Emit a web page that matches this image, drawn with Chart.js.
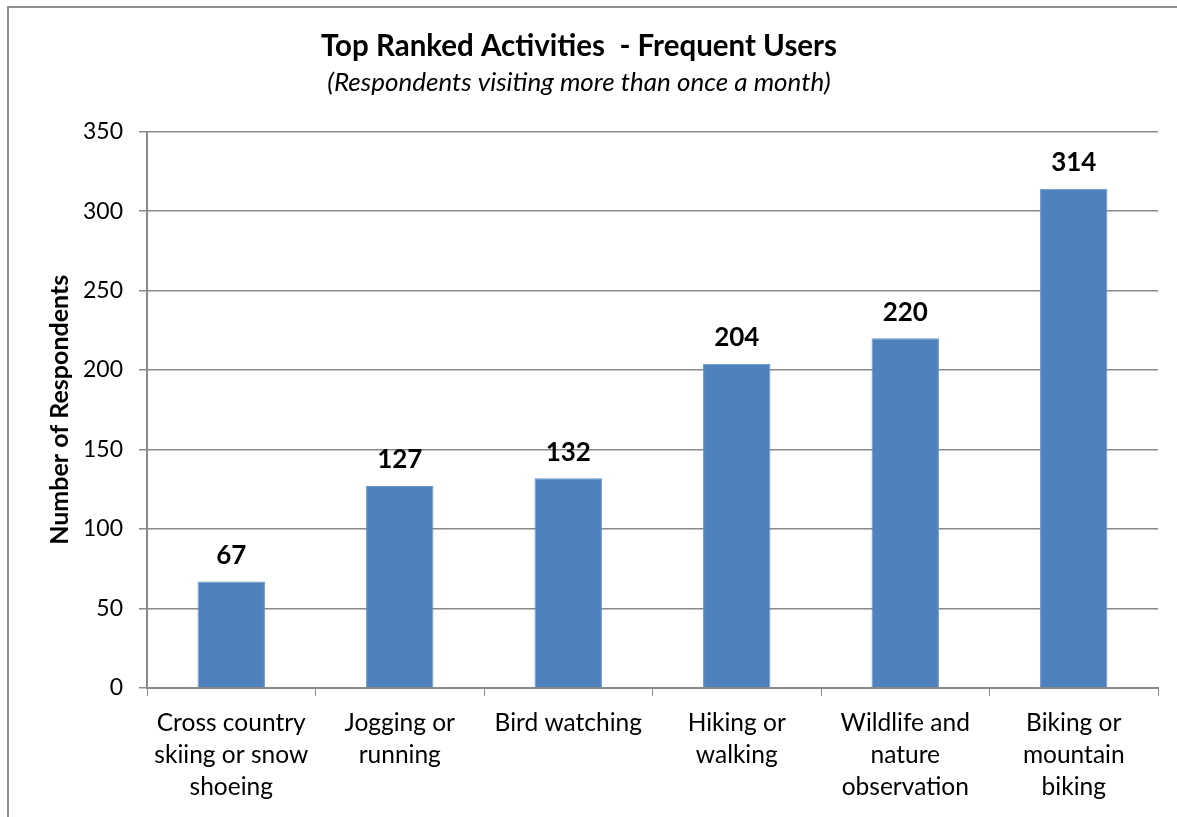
<!DOCTYPE html>
<html>
<head>
<meta charset="utf-8">
<style>
  html, body { margin: 0; padding: 0; background: #fff; overflow: hidden; }
  #wrap { position: relative; width: 1177px; height: 817px; }
  #frame { position: absolute; left: 7px; top: 6px; width: 1200px; height: 840px;
           border: 2px solid #8e8e8e; box-sizing: border-box; pointer-events: none; }
  canvas { position: absolute; left: 0; top: 0; }
</style>
<script src="https://cdn.jsdelivr.net/npm/chart.js@4"></script>
</head>
<body>
<div id="wrap">
  <canvas id="chart" width="1177" height="817"></canvas>
  <div id="frame"></div>
</div>
<script>
// Activities ranked by frequent visitors
const categories = [
  ['Cross country', 'skiing or snow', 'shoeing'],
  ['Jogging or', 'running'],
  ['Bird watching'],
  ['Hiking or', 'walking'],
  ['Wildlife and', 'nature', 'observation'],
  ['Biking or', 'mountain', 'biking']
];
const respondents = [67, 127, 132, 204, 220, 314];
const yTicks = [0, 50, 100, 150, 200, 250, 300, 350];

const FONT = 'Lato, "Open Sans", sans-serif';
const GRID = '#8a8a8a';

// Value labels drawn above each bar
const valueLabels = {
  id: 'valueLabels',
  afterDatasetsDraw(chart) {
    const ctx = chart.ctx;
    const meta = chart.getDatasetMeta(0);
    ctx.save();
    ctx.font = 'bold 26px ' + FONT;
    ctx.fillStyle = '#000';
    ctx.textAlign = 'center';
    ctx.textBaseline = 'middle';
    meta.data.forEach((bar, i) => {
      ctx.fillText(String(respondents[i]), bar.x, bar.y - 26);
    });
    ctx.restore();
  }
};

new Chart(document.getElementById('chart'), {
  type: 'bar',
  data: {
    labels: categories,
    datasets: [{
      data: respondents,
      backgroundColor: '#4F81BD',
      borderColor: '#6A95CA',
      borderWidth: 1,
      categoryPercentage: 1,
      barPercentage: 0.4
    }]
  },
  options: {
    responsive: false,
    animation: false,
    layout: { padding: { left: 0, right: 19, top: 0, bottom: 0 } },
    plugins: {
      legend: { display: false },
      tooltip: { enabled: false },
      title: {
        display: true,
        text: 'Top Ranked Activities  - Frequent Users',
        color: '#000',
        font: { family: FONT, size: 29.5, weight: 'bold', lineHeight: 1.2 },
        padding: { top: 29, bottom: 3 }
      },
      subtitle: {
        display: true,
        text: '(Respondents visiting more than once a month)',
        color: '#000',
        font: { family: FONT, size: 26, style: 'italic', lineHeight: 1.2 },
        padding: { top: 0, bottom: 33 }
      }
    },
    scales: {
      x: {
        grid: {
          display: true,
          drawOnChartArea: false,
          drawTicks: true,
          tickLength: 8,
          color: GRID,
          offset: true
        },
        border: { display: true, color: GRID, width: 2 },
        ticks: {
          color: '#000',
          font: { family: FONT, size: 24.5, lineHeight: 1.31 },
          padding: 11,
          maxRotation: 0,
          autoSkip: false
        },
        afterFit(scale) { scale.height = 129; }
      },
      y: {
        min: 0,
        max: 350,
        afterBuildTicks(scale) { scale.ticks = yTicks.map(v => ({ value: v })); },
        grid: {
          color: GRID,
          lineWidth: 1.5,
          tickLength: 8
        },
        border: { display: true, color: GRID, width: 2 },
        ticks: {
          color: '#000',
          font: { family: FONT, size: 23 },
          padding: 16
        },
        title: {
          display: true,
          text: 'Number of Respondents',
          color: '#000',
          font: { family: FONT, size: 25, weight: 'bold', lineHeight: 1.2 },
          padding: { top: 45, bottom: 0 }
        },
        afterFit(scale) { scale.width = 147; }
      }
    }
  },
  plugins: [valueLabels]
});
</script>
</body>
</html>
